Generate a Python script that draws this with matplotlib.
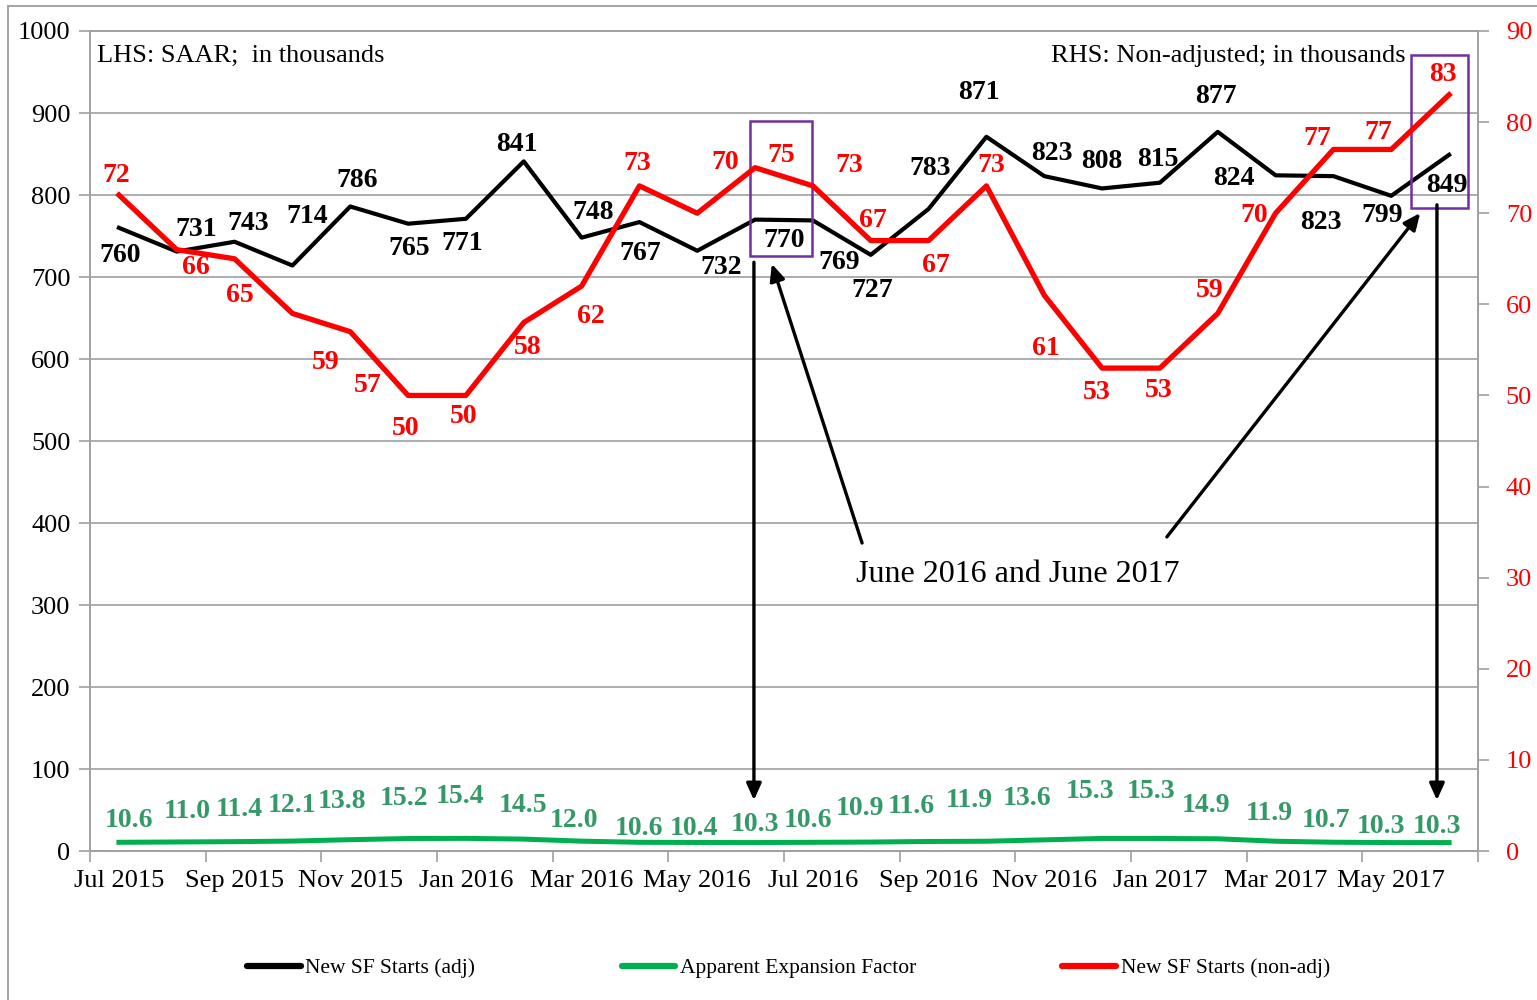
import numpy as np
import matplotlib.pyplot as plt
from matplotlib.patches import Rectangle

plt.rcParams['font.family'] = ['Liberation Serif', 'DejaVu Serif']

# Data
months = ['Jul 2015', 'Aug 2015', 'Sep 2015', 'Oct 2015', 'Nov 2015', 'Dec 2015',
          'Jan 2016', 'Feb 2016', 'Mar 2016', 'Apr 2016', 'May 2016', 'Jun 2016',
          'Jul 2016', 'Aug 2016', 'Sep 2016', 'Oct 2016', 'Nov 2016', 'Dec 2016',
          'Jan 2017', 'Feb 2017', 'Mar 2017', 'Apr 2017', 'May 2017', 'Jun 2017']
sf_adj = [760, 731, 743, 714, 786, 765, 771, 841, 748, 767, 732, 770,
          769, 727, 783, 871, 823, 808, 815, 877, 824, 823, 799, 849]
sf_nonadj = [72, 66, 65, 59, 57, 50, 50, 58, 62, 73, 70, 75,
             73, 67, 67, 73, 61, 53, 53, 59, 70, 77, 77, 83]
expansion = [10.6, 11.0, 11.4, 12.1, 13.8, 15.2, 15.4, 14.5, 12.0, 10.6, 10.4, 10.3,
             10.6, 10.9, 11.6, 11.9, 13.6, 15.3, 15.3, 14.9, 11.9, 10.7, 10.3, 10.3]

# label offsets in pixels (dx, dy)
off_adj = [(1, -28), (19, 22), (14, 18), (15, 49), (7, 26), (1, -25), (-4, -25), (-7, 17),
           (12, 25), (1, -31), (24, -17), (29, -21), (26, -42), (1, -36), (2, 40), (-8, 44),
           (8, 23), (0, 27), (-2, 23), (-2, 35), (-42, -3), (-13, -46), (-9, -20), (-2, -31)]
off_non = [(-3, 19), (19, -18), (5, -37), (33, -49), (17, -54), (-2, -33), (-2, -21), (4, -25),
           (9, -30), (-2, 22), (28, 51), (26, 12), (36, 20), (2, 20), (7, -25), (5, 20),
           (2, -53), (-5, -24), (-1, -22), (-8, 23), (-21, -2), (-16, 11), (-13, 17), (-6, 20)]
off_exp = [(10, 22), (10, 30), (5, 32), (0, 36), (-8, 38), (-4, 40), (-6, 42), (-1, 34),
           (-8, 21), (0, 14), (-3, 14), (0, 18), (-5, 22), (-11, 34), (-17, 35), (-17, 41),
           (-17, 41), (-12, 47), (-9, 47), (-12, 33), (-6, 28), (-7, 22), (-10, 16), (-12, 16)]

x = np.arange(len(months))
red = '#FF0000'
green_line = '#00B050'
green_text = '#339966'
grey = '#A0A0A0'

fig = plt.figure(figsize=(15.37, 10), dpi=100)
ax = fig.add_axes([90/1537, 149/1000, 1388/1537, 820/1000])
ax2 = ax.twinx()

ax.plot(x, sf_adj, color='black', lw=3, label='New SF Starts (adj)', zorder=3)
ax.plot(x, expansion, color=green_line, lw=3.6, label='Apparent Expansion Factor', zorder=3)
ax2.plot(x, sf_nonadj, color=red, lw=3.8, label='New SF Starts (non-adj)', zorder=3)

ax.set_xlim(-0.5, len(months) - 0.5)
ax.set_ylim(0, 1000)
ax2.set_ylim(0, 90)
ax.set_yticks(np.arange(0, 1001, 100))
ax2.set_yticks(np.arange(0, 91, 10))
ax.yaxis.grid(True, color=grey, lw=1.2)
ax.set_axisbelow(True)

ax.set_xticks(np.arange(-0.5, len(months), 2))
ax.set_xticklabels([])
ax.set_xticks(x[::2], minor=True)
ax.set_xticklabels(months[::2], minor=True)
ax.tick_params(axis='x', which='major', length=8, color=grey, width=1.2)
ax.tick_params(axis='x', which='minor', length=0, labelsize=19, pad=14)
ax.tick_params(axis='y', length=8, color=grey, width=1.2, labelsize=19, pad=6)
ax2.tick_params(axis='y', length=8, color=grey, width=1.2, labelsize=19, labelcolor=red, pad=12)

for a in (ax, ax2):
    for s in a.spines.values():
        s.set_color(grey)
        s.set_linewidth(1.2)

for i in x:
    ax.annotate(str(sf_adj[i]), (i, sf_adj[i]), xytext=off_adj[i], textcoords='offset pixels',
                ha='center', va='center', fontsize=20, fontweight='bold', color='black')
    ax2.annotate(str(sf_nonadj[i]), (i, sf_nonadj[i]), xytext=off_non[i], textcoords='offset pixels',
                 ha='center', va='center', fontsize=20, fontweight='bold', color=red)
    ax.annotate(f'{expansion[i]:.1f}', (i, expansion[i]), xytext=off_exp[i], textcoords='offset pixels',
                ha='center', va='center', fontsize=20, fontweight='bold', color=green_text)

ax.text(0.005, 0.97, 'LHS: SAAR;  in thousands', transform=ax.transAxes, fontsize=19, va='center')
ax.text(0.948, 0.97, 'RHS: Non-adjusted; in thousands', transform=ax.transAxes, fontsize=19,
        va='center', ha='right')

# boxes around June 2016 and June 2017
purple = '#7030A0'
ax.add_patch(Rectangle((10.91, 725.6), 1.07, 164.4, fill=False, ec=purple, lw=1.8, zorder=5))
ax.add_patch(Rectangle((22.34, 784), 0.99, 186.7, fill=False, ec=purple, lw=1.8, zorder=5))

# arrows
arw = dict(arrowstyle='-|>,head_length=1.0,head_width=0.45', color='black', lw=2.4, shrinkA=0, shrinkB=0)
ax.annotate('', xy=(10.98, 62), xytext=(10.98, 718), arrowprops=arw, zorder=6)
ax.annotate('', xy=(22.79, 62), xytext=(22.79, 788), arrowprops=arw, zorder=6)
ax.annotate('', xy=(11.29, 716), xytext=(12.85, 375.6), arrowprops=arw, zorder=6)
ax.annotate('', xy=(22.5, 778), xytext=(18.12, 383), arrowprops=arw, zorder=6)
ax.text(15.55, 336.6, 'June 2016 and June 2017', fontsize=23, ha='center', va='center')

h1, l1 = ax.get_legend_handles_labels()
h2, l2 = ax2.get_legend_handles_labels()
leg = fig.legend(h1 + h2, l1 + l2, loc='center', bbox_to_anchor=(0.513, 0.032), ncol=3,
                 frameon=False, fontsize=15.5, handlelength=2.5, handletextpad=0.2, columnspacing=6.8)
for ln in leg.get_lines():
    ln.set_linewidth(4.5)
    ln.set_solid_capstyle('round')

# outer chart frame
fig.patches.append(Rectangle((8/1537, -0.01), 1.02, 1.004, transform=fig.transFigure,
                             fill=False, ec='#A6A6A6', lw=1.5))

fig.savefig('out.png', dpi=100)
